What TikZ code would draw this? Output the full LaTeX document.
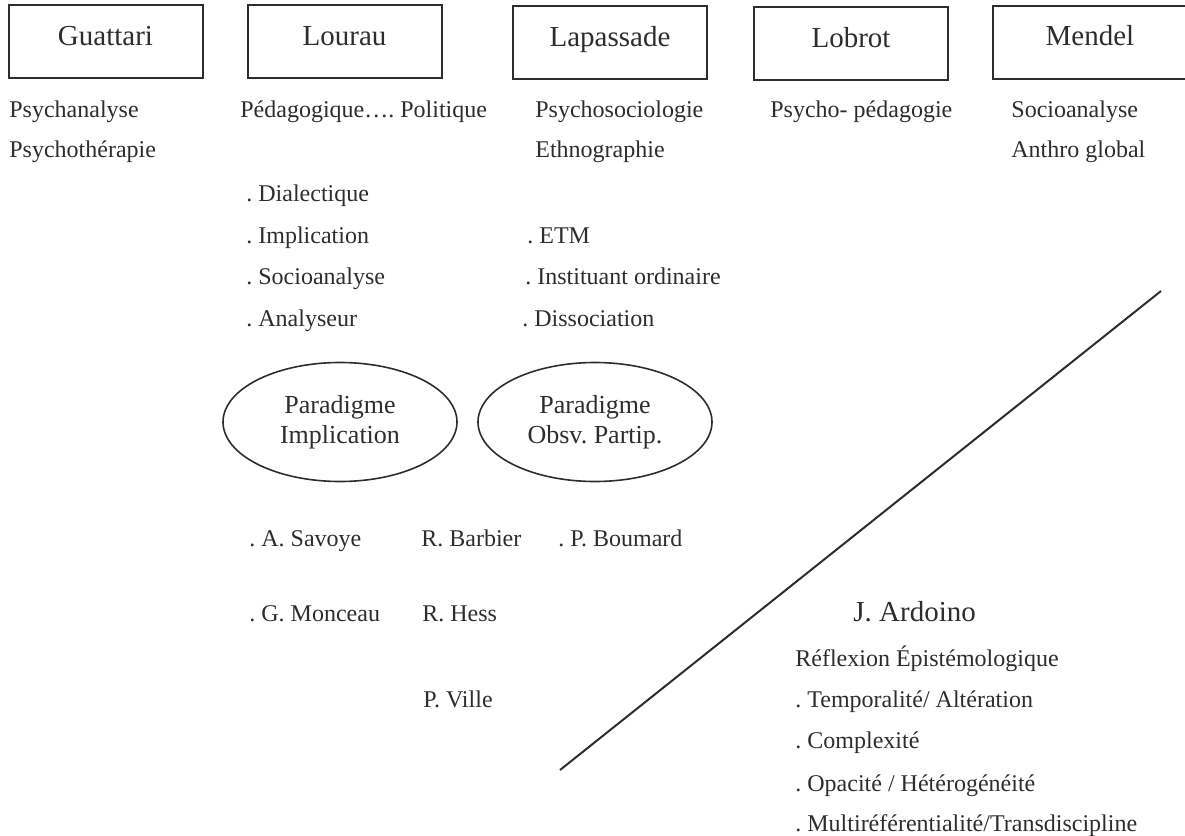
\documentclass[tikz,border=0pt]{standalone}
\usepackage{fontspec}
\setmainfont{Liberation Serif}
\usetikzlibrary{shapes.geometric}
\definecolor{ink}{RGB}{45,45,45}
\frenchspacing

\begin{document}
\begin{tikzpicture}[x=0.5pt,y=-0.5pt,
    namebox/.style={draw=ink,line width=1pt,minimum width=97pt,minimum height=36.5pt,
      inner sep=0pt,text height=7pt,text depth=3.5pt,text=ink,font=\fontsize{14.5}{17}\selectfont},
    para/.style={draw=ink,ellipse,line width=0.8pt,minimum width=117pt,minimum height=59.5pt,
      inner sep=0pt,align=center,text=ink,font=\fontsize{13}{15}\selectfont},
    txt/.style={anchor=base west,inner sep=0pt,text=ink,font=\fontsize{12}{14}\selectfont},
    big/.style={txt,font=\fontsize{14.5}{17}\selectfont}]
    \useasboundingbox (0,0) rectangle (1185,836);
    % set coordinates
    \coordinate (G) at (105.5,41.5);
    \coordinate (Lo) at (344.5,41.5);
    \coordinate (La) at (610,42.5);
    \coordinate (Lb) at (851,43.5);
    \coordinate (M) at (1090,42);
    \coordinate (PI) at (340,422);
    \coordinate (PO) at (595,422);
    \coordinate (S) at (560,770);
    \coordinate (N) at (1161,291);
    % draw figure
    \node [namebox] (guattari) at (G) {Guattari};
    \node [namebox] (lourau) at (Lo) {Lourau};
    \node [namebox] (lapassade) at (La) {Lapassade};
    \node [namebox] (lobrot) at (Lb) {Lobrot};
    \node [namebox] (mendel) at (M) {Mendel};
    \node [para] (implic) at (PI) {Paradigme\\Implication};
    \node [para] (obsv) at (PO) {Paradigme\\Obsv. Partip.};
    \draw [ink,line width=1pt] (S) -- (N);
    % add labels
    \node [txt] (psychanalyse) at (9,117) {Psychanalyse};
    \node [txt] (psychotherapie) at (9,157) {Psychothérapie};
    \node [txt] (pedagogique) at (240,117) {Pédagogique…. Politique};
    \node [txt] (dialectique) at (246,201) {. Dialectique};
    \node [txt] (implication) at (246,243) {. Implication};
    \node [txt] (socioanalyseL) at (246,284) {. Socioanalyse};
    \node [txt] (analyseur) at (246,326) {. Analyseur};
    \node [txt] (psychosocio) at (535,117) {Psychosociologie};
    \node [txt] (ethnographie) at (535,157) {Ethnographie};
    \node [txt] (etm) at (527,243) {. ETM};
    \node [txt] (instituant) at (525,284) {. Instituant ordinaire};
    \node [txt] (dissociation) at (522,326) {. Dissociation};
    \node [txt] (psychoped) at (770,117) {Psycho- pédagogie};
    \node [txt] (socioanalyseM) at (1011,117) {Socioanalyse};
    \node [txt] (anthro) at (1011,157) {Anthro global};
    \node [txt] (savoye) at (249,546) {. A. Savoye};
    \node [txt] (barbier) at (421,546) {R. Barbier};
    \node [txt] (boumard) at (558,546) {. P. Boumard};
    \node [txt] (monceau) at (249,621) {. G. Monceau};
    \node [txt] (hess) at (422,621) {R. Hess};
    \node [txt] (ville) at (423,707) {P. Ville};
    \node [big] (ardoino) at (853,621) {J. Ardoino};
    \node [txt] (reflexion) at (795,666) {Réflexion Épistémologique};
    \node [txt] (temporalite) at (795,707) {. Temporalité/ Altération};
    \node [txt] (complexite) at (795,748) {. Complexité};
    \node [txt] (opacite) at (795,791) {. Opacité / Hétérogénéité};
    \node [txt] (multiref) at (795,831) {. Multiréférentialité/Transdiscipline};
\end{tikzpicture}
\end{document}
